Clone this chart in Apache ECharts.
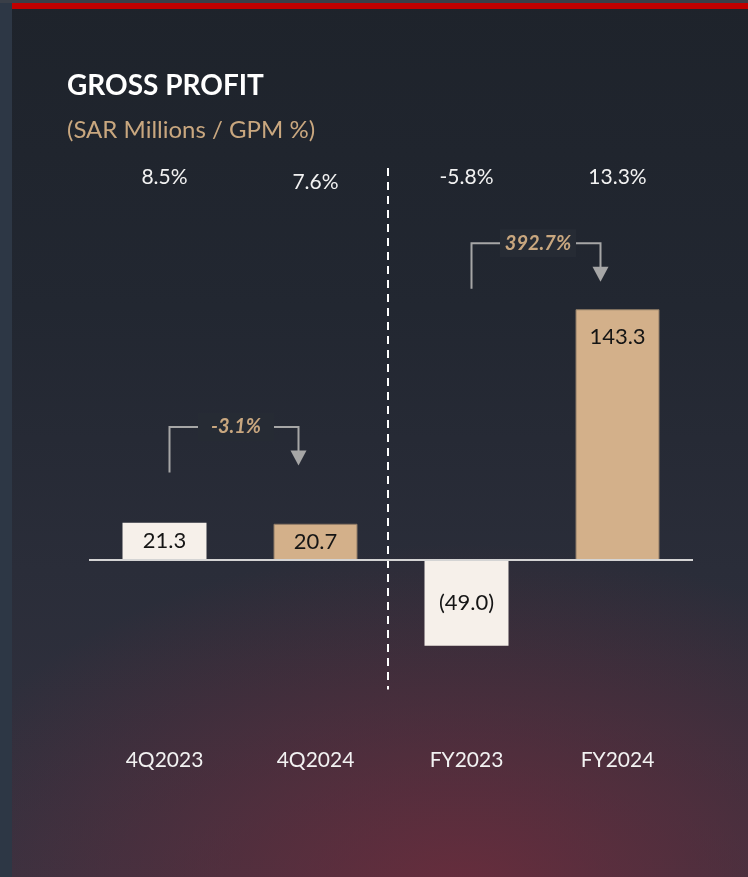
<!DOCTYPE html>
<html>
<head>
<meta charset="utf-8">
<script src="https://cdn.jsdelivr.net/npm/echarts@6/dist/echarts.min.js"></script>
<style>
  html, body { margin: 0; padding: 0; }
  body {
    width: 748px; height: 877px; overflow: hidden;
    background:
      radial-gradient(ellipse 75% 40% at 62% 102%, rgba(112,44,60,0.85), rgba(112,44,60,0) 100%),
      linear-gradient(180deg, #1e232b 0%, #222731 35%, #2a2d39 65%, #343240 100%);
  }
  #chart { width: 748px; height: 877px; }
</style>
</head>
<body>
<div id="chart"></div>
<script>
// values
const categories = ['4Q2023', '4Q2024', 'FY2023', 'FY2024'];
const grossProfit = [21.3, 20.7, -49.0, 143.3];
const gpmLabels = ['8.5%', '7.6%', '-5.8%', '13.3%'];
const growthLabels = ['-3.1%', '392.7%'];
const growthPairs = [[0, 1], [2, 3]];

// bracket heights in axis units (start of left leg, top bar, arrow tip)
const bracketLevels = [
  { start: 50, top: 76, tip: 54 },
  { start: 155, top: 181, tip: 159 }
];

const FONT = 'Lato, "Open Sans", sans-serif';
const CREAM = '#f6f0ea';
const TAN = '#d3b08a';
const GREY = '#a6a6a6';

const chart = echarts.init(document.getElementById('chart'), null, { renderer: 'canvas' });

function fmt(v) {
  return v < 0 ? '(' + Math.abs(v).toFixed(1) + ')' : v.toFixed(1);
}

chart.setOption({
  backgroundColor: 'transparent',
  animation: false,
  title: {
    text: 'GROSS PROFIT',
    subtext: '(SAR Millions / GPM %)',
    left: 62,
    top: 65,
    itemGap: 14,
    textStyle: { color: '#ffffff', fontFamily: FONT, fontWeight: 'bold', fontSize: 28, lineHeight: 32 },
    subtextStyle: { color: '#c9a77f', fontFamily: FONT, fontSize: 24, lineHeight: 28 }
  },
  grid: { left: 89, width: 604, top: 245, height: 455 },
  xAxis: [
    {
      type: 'category',
      data: categories,
      axisLine: { show: false, onZero: false },
      axisTick: { show: false },
      axisLabel: { color: '#f2f2f2', fontFamily: FONT, fontSize: 21, margin: 50 }
    },
    {
      type: 'category',
      position: 'top',
      // the 4Q2024 margin sits a few pixels lower on the slide
      data: gpmLabels.map((g, i) => i === 1 ? { value: g, textStyle: { lineHeight: 11 } } : g),
      axisLine: { show: false },
      axisTick: { show: false },
      axisLabel: { color: '#f2f2f2', fontFamily: FONT, fontSize: 21, lineHeight: 21, margin: 57 }
    }
  ],
  yAxis: { type: 'value', min: -80, max: 180, show: false, splitLine: { show: false } },
  series: [{
    type: 'bar',
    barWidth: 84,
    data: grossProfit.map((v, i) => ({
      value: v,
      itemStyle: i % 2 === 0
        ? { color: CREAM }
        : { color: TAN, borderColor: '#8e7b66', borderWidth: 1 },
      label: { position: v > 100 ? 'insideTop' : 'inside', distance: 17 }
    })),
    label: {
      show: true,
      color: '#151515',
      fontFamily: FONT,
      fontSize: 22,
      formatter: p => fmt(p.value)
    },
    markLine: {
      silent: true,
      symbol: 'none',
      label: { show: false },
      lineStyle: { color: '#d4d4d4', width: 2, type: 'solid' },
      data: [{ yAxis: 0 }]
    }
  }]
});

// decorations placed through the chart's own scales
const px = (i, v) => chart.convertToPixel({ seriesIndex: 0 }, [i, v]);
const graphics = [
  { type: 'rect', z: -10, shape: { x: 0, y: 0, width: 12, height: 877 }, style: { fill: '#2d3745' } },
  { type: 'rect', z: -10, shape: { x: 0, y: 0, width: 748, height: 3 }, style: { fill: '#3a3f48' } },
  { type: 'rect', z: 10, shape: { x: 12, y: 3, width: 736, height: 6 }, style: { fill: '#c00000' } }
];

// dashed divider between quarters and full years
const divX = (px(1, 0)[0] + px(2, 0)[0]) / 2 - 3;
graphics.push({
  type: 'line',
  shape: { x1: divX, y1: px(1, 224)[1], x2: divX, y2: px(1, -74)[1] },
  style: { stroke: '#ffffff', lineWidth: 2, lineDash: [8, 6] }
});

growthPairs.forEach(([a, b], k) => {
  const lv = bracketLevels[k];
  const lx = px(a, 0)[0] + 5;
  const rx = px(b, 0)[0] - 17;
  const yStart = px(a, lv.start)[1];
  const yTop = px(a, lv.top)[1];
  const yTip = px(b, lv.tip)[1];
  graphics.push({
    type: 'polyline',
    shape: { points: [[lx, yStart], [lx, yTop], [rx, yTop], [rx, yTip - 14]] },
    style: { stroke: GREY, lineWidth: 2, fill: null }
  });
  graphics.push({
    type: 'polygon',
    shape: { points: [[rx - 8, yTip - 15], [rx + 8, yTip - 15], [rx, yTip]] },
    style: { fill: GREY }
  });
  const cx = (lx + rx) / 2 + 2;
  graphics.push({
    type: 'rect',
    shape: { x: cx - 38, y: yTop - 14, width: 76, height: 28 },
    style: { fill: '#262b34' }
  });
  graphics.push({
    type: 'text',
    x: cx, y: yTop,
    style: {
      text: growthLabels[k],
      fill: '#c9a77f',
      font: 'italic bold 20px ' + FONT,
      align: 'center',
      verticalAlign: 'middle'
    }
  });
});

chart.setOption({ graphic: graphics });
</script>
</body>
</html>
